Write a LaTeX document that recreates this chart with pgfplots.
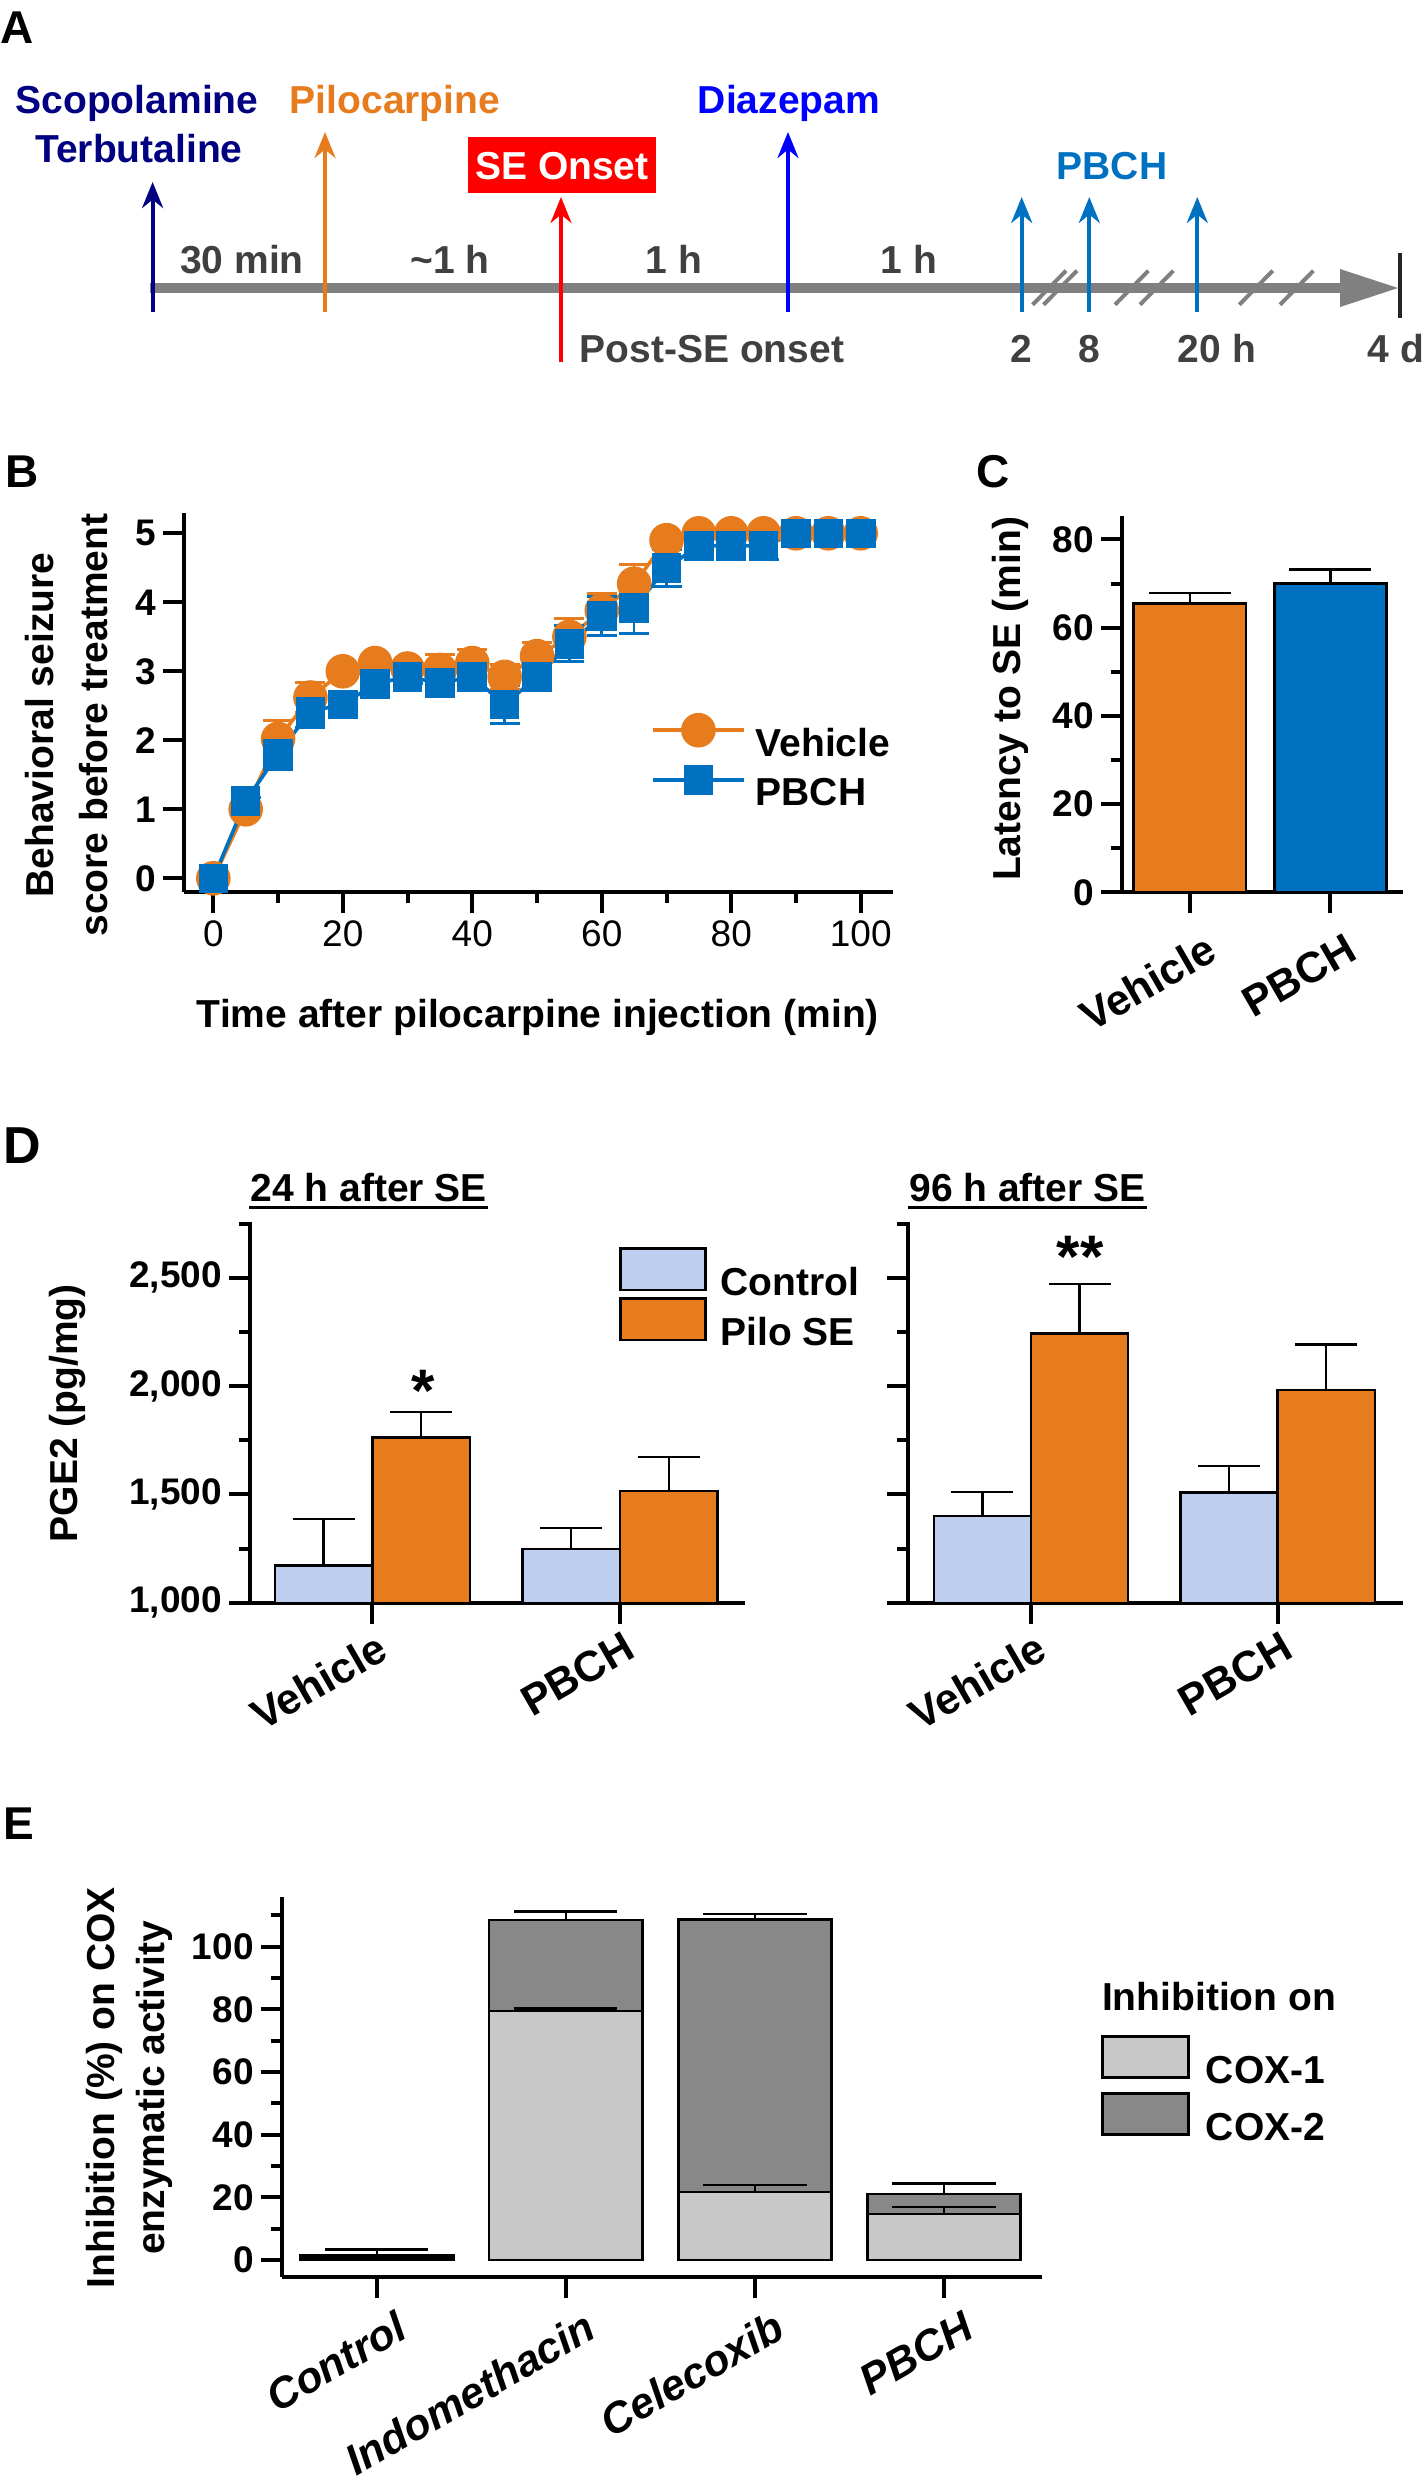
\documentclass[border=0pt]{standalone}
\usepackage{fontspec}
\setmainfont{Liberation Sans}
\usepackage{pgfplots}
\usepackage{pgfplotstable}
\pgfplotsset{compat=1.18}
\usetikzlibrary{arrows.meta}

\definecolor{vorange}{RGB}{231,124,30}
\definecolor{pblue}{RGB}{0,112,192}
\definecolor{ctrlblue}{RGB}{190,206,238}
\definecolor{navyA}{RGB}{0,0,128}
\definecolor{diazblue}{RGB}{0,0,255}
\definecolor{tlgray}{RGB}{128,128,128}
\definecolor{txtgray}{RGB}{64,64,64}
\definecolor{coxone}{RGB}{200,200,200}
\definecolor{coxtwo}{RGB}{136,136,136}

\newcommand{\lab}{\fontsize{19.5}{23}\selectfont\bfseries}
\newcommand{\tck}{\fontsize{18.5}{22}\selectfont\bfseries}
\newcommand{\catf}{\fontsize{21.5}{26}\selectfont\bfseries}
\newcommand{\letf}{\fontsize{23}{28}\selectfont\bfseries}

\pgfplotstableread{
t   veh   vehe  pb    pbe
0   0     0     0     0
5   1.00  0.05  1.12  0.05
10  2.02  0.26  1.80  0.22
15  2.62  0.22  2.42  0.24
20  3.00  0.05  2.52  0.08
25  3.12  0.05  2.82  0.15
30  3.04  0.05  2.92  0.10
35  3.02  0.22  2.83  0.20
40  3.12  0.20  2.92  0.10
45  2.92  0.18  2.52  0.27
50  3.22  0.20  2.92  0.10
55  3.50  0.27  3.40  0.26
60  3.88  0.25  3.80  0.28
65  4.27  0.28  3.92  0.37
70  4.90  0.05  4.50  0.27
75  5.00  0     4.82  0.20
80  5.00  0     4.82  0.20
85  5.00  0     4.82  0.20
90  5.00  0     5.00  0
95  5.00  0     5.00  0
100 5.00  0     5.00  0
}\Bdata

\pgfplotsset{
  panel/.style={
    scale only axis,
    anchor=south west,
    axis x line*=bottom, axis y line*=left,
    axis line style={line width=2pt, black},
    tick style={line width=2pt, black},
    tick align=outside,
    major tick length=10.5pt,
    minor tick length=5.5pt,
    tick label style={font=\tck},
    label style={font=\lab},
  },
  barerr/.style={error bars/.cd, y dir=plus, y explicit,
    error bar style={line width=1.2pt, black},
    error mark options={rotate=90, mark size=#1, line width=1.2pt, black}},
  boxlegend/.style={legend image code/.code={\draw[##1, line width=1.3pt] (0pt,-3.4pt) rectangle (42.5pt,17.4pt);}},
}

\begin{document}
\begin{tikzpicture}
\useasboundingbox (0,0) rectangle (712pt,-1240pt);

% ---------------- Panel A ----------------
\begin{scope}[x=0.5pt, y=-0.5pt, font=\lab]
\fill[tlgray] (150,283) rectangle (1342,293);
\fill[tlgray] (1340,269) -- (1398,288) -- (1340,307) -- cycle;
\draw[line width=2pt, black!85] (1400,253) -- (1400,318);
\foreach \c in {1049.3,1060.3,1131.7,1156.7,1256,1296.7}
  \draw[tlgray, line width=2pt] (\c-16.7,304.7) -- (\c+16.7,270.7);
\tikzset{arr/.style={line width=2pt, -{Stealth[length=13pt, width=10.5pt]}}}
\draw[arr, navyA] (152.6,312) -- (152.6,182);
\draw[arr, vorange] (325,312) -- (325,132);
\draw[arr, red] (561,362) -- (561,197);
\draw[arr, diazblue] (788,312) -- (788,132);
\draw[arr, pblue] (1021.7,311.7) -- (1021.7,197);
\draw[arr, pblue] (1089.3,311.7) -- (1089.3,197);
\draw[arr, pblue] (1197.3,311.7) -- (1197.3,197);
\node[navyA, anchor=base, inner sep=0] at (137,113) {Scopolamine};
\node[navyA, anchor=base, inner sep=0] at (139,162) {Terbutaline};
\node[vorange, anchor=base, inner sep=0] at (395,113) {Pilocarpine};
\fill[red] (468,137) rectangle (656,193);
\node[white, anchor=base, inner sep=0] at (562,179) {SE Onset};
\node[diazblue, anchor=base, inner sep=0] at (789,113) {Diazepam};
\node[pblue, anchor=base, inner sep=0] at (1112,179) {PBCH};
\node[txtgray, anchor=base, inner sep=0] at (242,273) {30 min};
\node[txtgray, anchor=base, inner sep=0] at (450,273) {\textasciitilde 1 h};
\node[txtgray, anchor=base, inner sep=0] at (674,273) {1 h};
\node[txtgray, anchor=base, inner sep=0] at (909,273) {1 h};
\node[txtgray, anchor=base, inner sep=0] at (712,362) {Post-SE onset};
\node[txtgray, anchor=base, inner sep=0] at (1021.7,362) {2};
\node[txtgray, anchor=base, inner sep=0] at (1089.3,362) {8};
\node[txtgray, anchor=base, inner sep=0] at (1217,362) {20 h};
\node[txtgray, anchor=base, inner sep=0] at (1396,362) {4 d};
\end{scope}

% panel letters
\node[anchor=base west, inner sep=0, font=\letf] at (0pt,-21.5pt) {A};
\node[anchor=base west, inner sep=0, font=\letf] at (2.5pt,-243.5pt) {B};
\node[anchor=base west, inner sep=0, font=\letf] at (488pt,-243.5pt) {C};
\node[anchor=base west, inner sep=0, font=\fontsize{26}{30}\selectfont\bfseries] at (1.5pt,-581.5pt) {D};
\node[anchor=base west, inner sep=0, font=\letf] at (1.5pt,-919.5pt) {E};

% ---------------- Panel B ----------------
\begin{axis}[panel, at={(92pt,-446.15pt)}, width=354.65pt, height=189.65pt,
  xmin=-4.53, xmax=105.03, ymin=-0.203, ymax=5.294, clip=false,
  xtick={0,20,...,100}, minor xtick={10,30,...,90}, ytick={0,1,...,5},
  xticklabels={0,20,40,60,80,100}, yticklabels={0,1,2,3,4,5},
  xticklabel style={font=\fontsize{18.5}{22}\selectfont\mdseries},
  xlabel={Time after pilocarpine injection (min)},
  xlabel style={at={(0.499,-0.331)}, anchor=center},
  ylabel={Behavioral seizure\\score before treatment},
  ylabel style={at={(-0.1654,0.441)}, anchor=center, align=center, font=\fontsize{19.5}{27.3}\selectfont\bfseries},
  legend cell align=left,
  legend style={at={(0.658,0.344)}, anchor=west, draw=none, fill=none, inner sep=0pt,
    row sep=3.5pt, column sep=5pt, font=\lab, nodes={inner sep=0pt}},
  legend image code/.code={\draw[mark repeat=2, mark phase=2, #1] plot coordinates {(0pt,7pt) (22.75pt,7pt) (45.5pt,7pt)};},
]
\addplot[vorange, line width=1.8pt, mark=*, mark size=7.75pt, mark options={solid, fill=vorange, draw=vorange},
  error bars/.cd, y dir=both, y explicit,
  error bar style={line width=1.3pt, vorange},
  error mark options={rotate=90, mark size=7.5pt, line width=1.5pt, vorange}]
  table[x=t, y=veh, y error=vehe] {\Bdata};
\addlegendentry{Vehicle}
\addplot[pblue, line width=1.8pt, mark=square*, mark size=6.5pt, mark options={solid, fill=pblue, draw=pblue},
  error bars/.cd, y dir=both, y explicit,
  error bar style={line width=1.3pt, pblue},
  error mark options={rotate=90, mark size=7.5pt, line width=1.5pt, pblue}]
  table[x=t, y=pb, y error=pbe] {\Bdata};
\addlegendentry{PBCH}
\addplot[forget plot, draw=none, mark=none,
  error bars/.cd, y dir=both, y explicit,
  error bar style={line width=1.3pt, draw=vorange},
  error mark options={rotate=90, mark size=7.5pt, line width=1.5pt, draw=vorange}]
  table[x=t, y=veh, y error=vehe] {\Bdata};
\end{axis}

% ---------------- Panel C ----------------
\begin{axis}[panel, at={(560.85pt,-446.15pt)}, width=140.65pt, height=188.15pt,
  xmin=-0.486, xmax=1.517, ymin=0, ymax=85.3, clip=false,
  xtick={0,1}, xticklabels={Vehicle,PBCH},
  xticklabel style={rotate=30, anchor=north east, font=\catf, xshift=5pt, yshift=-8pt},
  ytick={0,20,...,80}, minor ytick={10,30,50,70}, yticklabels={0,20,40,60,80},
  ylabel={Latency to SE (min)},
  ylabel style={at={(-0.397,0.514)}, anchor=center},
]
\addplot[ybar, bar width=0.8, bar shift=0pt, fill=vorange, draw=black, line width=1.3pt, barerr=20.5pt]
  coordinates {(0,65.4) +- (0,2.5)};
\addplot[ybar, bar width=0.8, bar shift=0pt, fill=pblue, draw=black, line width=1.3pt, barerr=20.5pt]
  coordinates {(1,70.0) +- (0,3.2)};
\end{axis}

% ---------------- Panel D ----------------
\node[anchor=base, inner sep=0, font=\lab] at (184.4pt,-600.85pt) {24 h after SE};
\draw[line width=1.5pt] (124.65pt,-603.85pt) -- (244.15pt,-603.85pt);
\node[anchor=base, inner sep=0, font=\lab] at (513.75pt,-600.85pt) {96 h after SE};
\draw[line width=1.5pt] (454.15pt,-603.85pt) -- (573.35pt,-603.85pt);

\begin{axis}[panel, boxlegend, at={(125pt,-801.35pt)}, width=247.5pt, height=190.35pt,
  xmin=-0.494, xmax=1.505, ymin=1000, ymax=2757,
  xtick={0,1}, xticklabels={Vehicle,PBCH},
  xticklabel style={rotate=30, anchor=north east, font=\catf, xshift=3pt},
  ytick={1000,1500,2000,2500}, minor ytick={1250,1750,2250,2750},
  yticklabels={{1,000},{1,500},{2,000},{2,500}},
  ylabel={PGE2 (pg/mg)},
  ylabel style={at={(-0.368,0.498)}, anchor=center},
  legend cell align=left,
  legend style={at={(0.7455,0.935)}, anchor=north west, draw=none, fill=none, inner sep=0pt,
    row sep=-1pt, column sep=6.75pt, font=\lab, nodes={inner sep=0pt}},
]
\addplot[forget plot, ybar, bar width=0.394, bar shift=0pt, fill=ctrlblue, draw=black, line width=1.2pt, barerr=15.5pt]
  coordinates {(-0.197,1171) +- (0,215) (0.803,1247) +- (0,99)};
\addplot[forget plot, ybar, bar width=0.394, bar shift=0pt, fill=vorange, draw=black, line width=1.2pt, barerr=15.5pt]
  coordinates {(0.197,1762) +- (0,119) (1.197,1515) +- (0,158)};
\addlegendimage{fill=ctrlblue, draw=black}
\addlegendentry{Control}
\addlegendimage{fill=vorange, draw=black}
\addlegendentry{Pilo SE}
\end{axis}

\begin{axis}[panel, at={(454.15pt,-801.35pt)}, width=247.35pt, height=190.35pt,
  xmin=-0.497, xmax=1.508, ymin=1000, ymax=2757,
  xtick={0,1}, xticklabels={Vehicle,PBCH},
  xticklabel style={rotate=30, anchor=north east, font=\catf, xshift=3pt},
  ytick={1000,1500,2000,2500}, minor ytick={1250,1750,2250,2750},
  yticklabels={,,,},
]
\addplot[ybar, bar width=0.394, bar shift=0pt, fill=ctrlblue, draw=black, line width=1.2pt, barerr=15.5pt]
  coordinates {(-0.197,1400) +- (0,111) (0.803,1508) +- (0,123)};
\addplot[ybar, bar width=0.394, bar shift=0pt, fill=vorange, draw=black, line width=1.2pt, barerr=15.5pt]
  coordinates {(0.197,2243) +- (0,229) (1.197,1982) +- (0,210)};
\end{axis}

\node[anchor=base, inner sep=0, font=\fontsize{30}{34}\selectfont\bfseries] at (211.35pt,-705.7pt) {*};
\node[anchor=base, inner sep=0, font=\fontsize{30}{34}\selectfont\bfseries] at (540pt,-638.5pt) {**};

% ---------------- Panel E ----------------
\node[anchor=base west, inner sep=0, font=\lab] at (550.85pt,-1005pt) {Inhibition on};
\begin{axis}[panel, at={(140.85pt,-1138.35pt)}, width=380pt, height=190pt,
  xmin=-0.503, xmax=3.517, ymin=-5.3, ymax=115.9, clip=false,
  xtick={0,1,2,3}, xticklabels={Control,Indomethacin,Celecoxib,PBCH},
  xticklabel style={rotate=30, anchor=north east, font=\catf\itshape, xshift=8pt, yshift=-6pt},
  ytick={0,20,...,100}, minor ytick={10,30,...,110}, yticklabels={0,20,40,60,80,100},
  ylabel={Inhibition (\%) on COX\\enzymatic activity},
  ylabel style={at={(-0.2003,0.497)}, anchor=center, align=center, font=\fontsize{19.5}{25}\selectfont\bfseries},
  legend image code/.code={\draw[#1, line width=1.3pt] (0pt,-3.25pt) rectangle (43pt,17.25pt);},
  legend cell align=left,
  legend style={at={(1.078,0.636)}, anchor=north west, draw=none, fill=none, inner sep=0pt,
    row sep=3pt, column sep=8pt, font=\lab, nodes={inner sep=0pt}},
]
\addplot[forget plot, ybar, bar width=0.81, bar shift=0pt, fill=coxtwo, draw=black, line width=1.2pt, barerr=25.8pt]
  coordinates {(0,1.5) +- (0,1.9) (1,108.4) +- (0,2.8) (2,108.7) +- (0,1.6) (3,21.0) +- (0,3.4)};
\addplot[forget plot, ybar, bar width=0.81, bar shift=0pt, fill=coxone, draw=black, line width=1.2pt, barerr=25.8pt]
  coordinates {(0,0.5) +- (0,0.5) (1,79.5) +- (0,0.8) (2,21.7) +- (0,2.2) (3,14.8) +- (0,2.2)};
\addlegendimage{fill=coxone, draw=black}
\addlegendentry{COX-1}
\addlegendimage{fill=coxtwo, draw=black}
\addlegendentry{COX-2}
\end{axis}

\end{tikzpicture}
\end{document}
